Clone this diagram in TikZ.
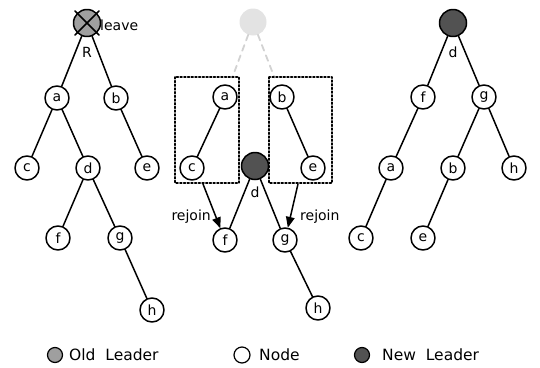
\documentclass[tikz,border=0pt]{standalone}
\usepackage{fontspec}
\setmainfont{DejaVu Sans}
\usepackage{tikz}
\usetikzlibrary{arrows}

\tikzset{
  tnode/.style={circle, draw, line width=1.5pt, minimum size=24pt, inner sep=0pt, font=\fontsize{14}{14}\selectfont},
  oldleader/.style={tnode, fill=gray!75, minimum size=27pt},
  newleader/.style={tnode, fill=black!68, minimum size=27pt},
  ghost/.style={circle, fill=gray!22, minimum size=27pt, inner sep=0pt},
  edge/.style={line width=1.5pt},
  ghostedge/.style={gray!35, line width=1.8pt, dash pattern=on 6pt off 5pt},
  group/.style={dotted, line width=1.7pt},
  txt/.style={font=\fontsize{14}{14}\selectfont, inner sep=1pt},
  keytxt/.style={font=\fontsize{15.5}{16}\selectfont, inner sep=0pt, anchor=west},
}

\begin{document}
\begin{tikzpicture}[x=1pt,y=-1pt,line cap=round,line join=round]
        \useasboundingbox (0,0) rectangle (540,367);

        % before: R leaves
        \node[oldleader] (R) at (87,23) {};
        \draw[edge, shorten <=-3pt, shorten >=-3pt] (R.north west) -- (R.south east);
        \draw[edge, shorten <=-3pt, shorten >=-3pt] (R.north east) -- (R.south west);
        \node[txt, anchor=west] (leave) at (99,25) {leave};
        \node[txt] (Rlab) at (87,52) {R};
        \node[tnode] (la) at (57,98) {a};
        \node[tnode] (lb) at (116,98) {b};
        \node[tnode] (lc) at (27,168) {c};
        \node[tnode] (ld) at (88,168) {d};
        \node[tnode] (le) at (147,168) {e};
        \node[tnode] (lf) at (58,238) {f};
        \node[tnode] (lg) at (120,238) {g};
        \node[tnode] (lh) at (152,310) {h};
        \draw[edge] (R) -- (la);
        \draw[edge] (R) -- (lb);
        \draw[edge] (la) -- (lc);
        \draw[edge] (la) -- (ld);
        \draw[edge] (lb) -- (le);
        \draw[edge] (ld) -- (lf);
        \draw[edge] (ld) -- (lg);
        \draw[edge] (lg) -- (lh);

        % during: subtrees rejoin under d
        \node[ghost] (mR) at (253,22) {};
        \node[tnode] (ma) at (225,97) {a};
        \node[tnode] (mb) at (282,97) {b};
        \node[tnode] (mc) at (192,168) {c};
        \node[newleader] (md) at (255,166) {};
        \node[txt] (mdlab) at (255,192) {d};
        \node[tnode] (me) at (313,168) {e};
        \node[tnode] (mf) at (225,240) {f};
        \node[tnode] (mg) at (285,240) {g};
        \node[tnode] (mh) at (318,308) {h};
        \draw[ghostedge, shorten >=8pt] (mR) -- (ma);
        \draw[ghostedge, shorten >=8pt] (mR) -- (mb);
        \draw[edge] (ma) -- (mc);
        \draw[edge] (mb) -- (me);
        \draw[edge] (md) -- (mf);
        \draw[edge] (md) -- (mg);
        \draw[edge] (mg) -- (mh);
        \draw[group] (175,77) rectangle (239,183);
        \draw[group] (269,77) rectangle (332,183);
        \coordinate (lbox) at (203,184);
        \coordinate (rbox) at (298,184);
        \draw[edge, -triangle 45] (lbox) -- (mf);
        \draw[edge, -triangle 45] (rbox) -- (mg);
        \node[txt, anchor=east] (rejoin1) at (212,217) {rejoin};
        \node[txt, anchor=west] (rejoin2) at (299,217) {rejoin};

        % after: d is the new leader
        \node[newleader] (rd) at (453,23) {};
        \node[txt] (rdlab) at (453,52) {d};
        \node[tnode] (rf) at (423,97) {f};
        \node[tnode] (rg) at (484,97) {g};
        \node[tnode] (ra) at (391,168) {a};
        \node[tnode] (rb) at (453,168) {b};
        \node[tnode] (rh) at (514,168) {h};
        \node[tnode] (rc) at (361,238) {c};
        \node[tnode] (re) at (423,238) {e};
        \draw[edge] (rd) -- (rf);
        \draw[edge] (rd) -- (rg);
        \draw[edge] (rf) -- (ra);
        \draw[edge] (ra) -- (rc);
        \draw[edge] (rg) -- (rb);
        \draw[edge] (rg) -- (rh);
        \draw[edge] (rb) -- (re);

        % legend
        \node[oldleader, minimum size=15pt, line width=1.2pt] (k1) at (55,355) {};
        \node[keytxt] (k1txt) at (69,355) {Old\ \ Leader};
        \node[tnode, minimum size=16pt, line width=1.2pt] (k2) at (242,355) {};
        \node[keytxt] (k2txt) at (259,355) {Node};
        \node[newleader, minimum size=15pt, line width=1.2pt] (k3) at (362,355) {};
        \node[keytxt] (k3txt) at (382,355) {New\ \ Leader};
    \end{tikzpicture}
\end{document}
